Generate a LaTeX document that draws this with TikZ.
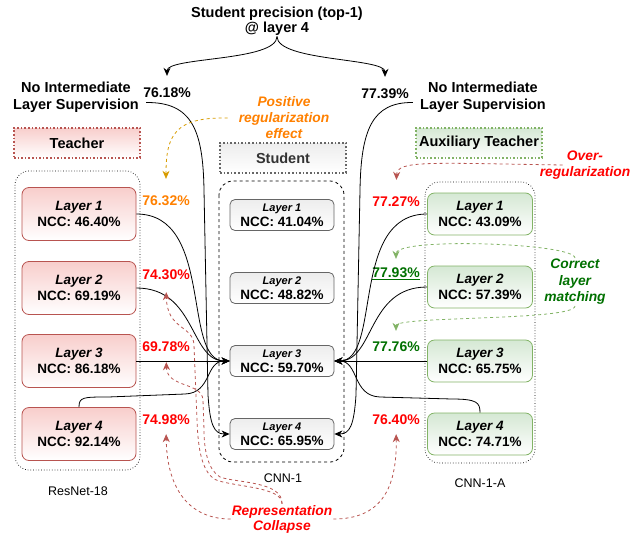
\documentclass[tikz,border=0pt]{standalone}
\usepackage{fontspec}
\setmainfont{Liberation Sans}
\usetikzlibrary{arrows.meta}

\definecolor{tred}{HTML}{B85450}
\definecolor{tredfill}{HTML}{F8CECC}
\definecolor{agreen}{HTML}{82B366}
\definecolor{agreenfill}{HTML}{D5E8D4}
\definecolor{sgray}{HTML}{666666}
\definecolor{sgrayfill}{HTML}{EDEDED}
\definecolor{txtred}{HTML}{FF0000}
\definecolor{txtorange}{HTML}{FF8000}
\definecolor{txtgreen}{HTML}{007000}
\definecolor{arrorange}{HTML}{D79B00}

\def\bigfont{\bfseries\fontsize{14.5}{17}\selectfont}
\def\pctfont{\bfseries\fontsize{14}{16}\selectfont}
\def\boxfont{\bfseries\fontsize{13.5}{16}\selectfont}
\def\notefont{\bfseries\itshape\fontsize{13.8}{16}\selectfont}
\def\smallfont{\fontsize{12.5}{14}\selectfont}

\tikzset{
	lbl/.style={font=\bigfont, align=center, inner sep=1pt},
	pct/.style={font=\pctfont, inner sep=1pt},
	note/.style={font=\notefont, align=center, inner sep=1pt},
	teacherbox/.style={draw=tred, top color=tredfill, bottom color=white, rounded corners=7pt, minimum width=114pt, minimum height=53pt, align=center, font=\boxfont, line width=0.8pt},
	studentbox/.style={draw=sgray, top color=sgrayfill, bottom color=white, rounded corners=5pt, minimum width=104pt, minimum height=31pt, align=center, font=\boxfont, line width=0.8pt, inner sep=1pt},
	auxbox/.style={draw=agreen, top color=agreenfill, bottom color=white, rounded corners=7pt, minimum width=105pt, minimum height=42pt, align=center, font=\boxfont, line width=0.8pt},
	header/.style={dotted, line width=1.6pt, minimum width=126pt, minimum height=30pt, inner xsep=1pt, font=\bigfont},
	feed/.style={line width=0.8pt, -{Stealth[length=8pt,width=7pt,inset=2.5pt]}},
	hint/.style={dashed, line width=0.8pt, -{Stealth[length=8pt,width=7pt,inset=2.5pt]}},
}

\begin{document}
\begin{tikzpicture}[x=1pt, y=-1pt]
			%%%%% START %%%%%
			\useasboundingbox (0,0) rectangle (639,533);
			
			% groups
			\draw[dotted, line width=0.7pt, rounded corners=14pt] (15,171) rectangle (140,470);
			\draw[dashed, line width=0.8pt, rounded corners=14pt] (219,181) rectangle (344,462);
			\draw[dotted, line width=0.7pt, rounded corners=14pt] (425,182) rectangle (535,463);
			\node[font=\smallfont] (resnet) at (78,491) {ResNet-18};
			\node[font=\smallfont] (cnn) at (283,478) {CNN-1};
			\node[font=\smallfont] (cnna) at (480,483) {CNN-1-A};
			
			% headers
			\node[lbl] (prec) at (277,21) {Student precision (top-1)\\[-2pt]@ layer 4};
			\node[lbl] (nisL) at (76,97.5) {No Intermediate\\Layer Supervision};
			\node[lbl] (nisR) at (483,97.5) {No Intermediate\\Layer Supervision};
			\node[pct] (accL) at (167,93) {76.18\%};
			\node[pct] (accR) at (385,94) {77.39\%};
			
			\node[header, draw=tred, top color=tredfill, bottom color=white] (thead) at (77,143) {Teacher};
			\node[header, draw=sgray, top color=sgrayfill, bottom color=white, text=black!80] (shead) at (283,158) {Student};
			\node[header, draw=agreen, top color=agreenfill, bottom color=white] (ahead) at (479,143) {Auxiliary Teacher};
			
			% teacher
			\node[teacherbox] (tL1) at (79,214) {\textit{Layer 1}\\NCC: 46.40\%};
			\node[teacherbox] (tL2) at (79,288) {\textit{Layer 2}\\NCC: 69.19\%};
			\node[teacherbox] (tL3) at (79,361) {\textit{Layer 3}\\NCC: 86.18\%};
			\node[teacherbox] (tL4) at (79,434) {\textit{Layer 4}\\NCC: 92.14\%};
			
			% student
			\node[studentbox] (sL1) at (282,215) {{\fontsize{11}{13}\selectfont\textit{Layer 1}}\\[-1pt]NCC: 41.04\%};
			\node[studentbox] (sL2) at (282,288) {{\fontsize{11}{13}\selectfont\textit{Layer 2}}\\[-1pt]NCC: 48.82\%};
			\node[studentbox] (sL3) at (282,361) {{\fontsize{11}{13}\selectfont\textit{Layer 3}}\\[-1pt]NCC: 59.70\%};
			\node[studentbox] (sL4) at (282,434) {{\fontsize{11}{13}\selectfont\textit{Layer 4}}\\[-1pt]NCC: 65.95\%};
			
			% auxiliary teacher
			\node[auxbox] (aL1) at (480,214) {\textit{Layer 1}\\NCC: 43.09\%};
			\node[auxbox] (aL2) at (480,287) {\textit{Layer 2}\\NCC: 57.39\%};
			\node[auxbox] (aL3) at (480,361) {\textit{Layer 3}\\NCC: 65.75\%};
			\node[auxbox] (aL4) at (480,434) {\textit{Layer 4}\\NCC: 74.71\%};
			
			% precisions
			\node[pct, text=txtorange] (tp1) at (166,201) {76.32\%};
			\node[pct, text=txtred] (tp2) at (166,275) {74.30\%};
			\node[pct, text=txtred] (tp3) at (166,347) {69.78\%};
			\node[pct, text=txtred] (tp4) at (166,420) {74.98\%};
			\node[pct, text=txtred] (ap1) at (396,202) {77.27\%};
			\node[pct, text=txtgreen] (ap2) at (396,274) {\underline{77.93\%}};
			\node[pct, text=txtgreen] (ap3) at (396,347) {77.76\%};
			\node[pct, text=txtred] (ap4) at (396,420) {76.40\%};
			
			% notes
			\node[note, text=txtorange] (pos) at (284,118) {Positive\\regularization\\effect};
			\node[note, text=txtred] (ov) at (585,165) {Over-\\regularization};
			\node[note, text=txtgreen, font=\bfseries\itshape\fontsize{13.8}{16.5}\selectfont] (cl) at (575,282) {Correct\\layer\\matching};
			\node[note, text=txtred, font=\bfseries\itshape\fontsize{13.8}{15}\selectfont] (rc) at (282,519) {Representation\\Collapse};
			
			% top-1 split
			\draw[feed, shorten >=11pt] (prec.south) .. controls +(0,25) and +(0,-30) .. (accL.north);
			\draw[feed, shorten >=11pt] (prec.south) .. controls +(0,25) and +(0,-30) .. (accR.north);
			
			% teacher -> student
			\draw[feed] (tL1.east) .. controls +(78,0) and +(-48,0) .. (sL3.west);
			\draw[feed] (tL2.east) .. controls +(60,0) and +(-40,0) .. (sL3.west);
			\draw[feed] (tL3.east) -- (sL3.west);
			\draw[feed] (tL4.north) .. controls +(0,-10) and +(-25,0) .. (108,397) -- (185,394) .. controls (212,393) and (205,361) .. (sL3.west);
			\draw[feed] ([xshift=6pt,yshift=-5pt]nisL.east) .. controls (192,102) and (203,130) .. (204,190) -- (208,395) .. controls (210,425) and (214,434) .. (sL4.west);
			
			% auxiliary -> student
			\draw[feed] (aL1.west) .. controls +(-78,0) and +(48,0) .. (sL3.east);
			\draw[feed] (aL2.west) .. controls +(-60,0) and +(40,0) .. (sL3.east);
			\draw[feed] (aL3.west) -- (sL3.east);
			\draw[feed] (aL4.north) .. controls +(0,-10) and +(25,0) .. (452,399) -- (380,397) .. controls (352,396) and (359,361) .. (sL3.east);
			\draw[feed] ([xshift=-6pt,yshift=-5pt]nisR.west) .. controls (372,102) and (361,130) .. (360,190) -- (356,395) .. controls (354,425) and (350,434) .. (sL4.east);
			
			% remarks
			\draw[hint, draw=arrorange, shorten >=16pt] ([xshift=-10pt]pos.west) .. controls (175,117) and (166,135) .. (tp1.north);
			\draw[hint, draw=tred, shorten >=16pt] ([xshift=24pt]ov.west) .. controls (430,163) and (397,160) .. (ap1.north);
			\draw[hint, draw=agreen, shorten >=8pt] (cl.north) .. controls +(0,-15) and +(0,-30) .. (ap2.north);
			\draw[hint, draw=agreen, shorten >=10pt] (cl.south) .. controls +(0,15) and +(0,-25) .. (ap3.north);
			
			\draw[hint, draw=tred, shorten >=11pt] (rc.north) .. controls (283,486) and (230,487) .. (214,479) .. controls (202,470) and (198,450) .. (197,420) -- (194,345) .. controls (193,325) and (167,330) .. (tp2.south);
			\draw[hint, draw=tred, shorten >=9pt] (rc.north) .. controls (283,481) and (236,483) .. (220,477) .. controls (208,470) and (204,450) .. (204,430) -- (203,400) .. controls (202,382) and (167,388) .. (tp3.south);
			\draw[hint, draw=tred, shorten >=8pt] (rc.west) .. controls (190,519) and (167,490) .. (tp4.south);
			\draw[hint, draw=tred, shorten >=8pt] (rc.east) .. controls (380,519) and (397,490) .. (ap4.south);
			
			%%%%% END %%%%%
\end{tikzpicture}
\end{document}
